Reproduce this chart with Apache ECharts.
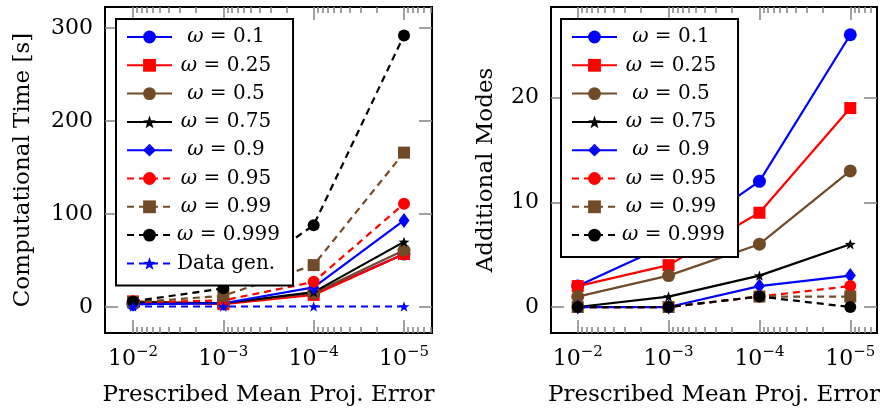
<!DOCTYPE html>
<html><head><meta charset="utf-8">
<script src="https://cdn.jsdelivr.net/npm/echarts@6/dist/echarts.min.js"></script>
<style>html,body{margin:0;padding:0;background:#fff}#c{width:882px;height:409px}</style>
</head><body><div id="c"></div>
<script>
// ---- data ----
const errorExponents = [2, 3, 4, 5]; // prescribed error = 10^-n
const seriesNames = ['ω = 0.1', 'ω = 0.25', 'ω = 0.5', 'ω = 0.75', 'ω = 0.9', 'ω = 0.95', 'ω = 0.99', 'ω = 0.999', 'Data gen.'];
// computational time [s]
const timeW01   = [3, 4, 14, 57];
const timeW025  = [6, 3, 13, 57];
const timeW05   = [5, 4, 15, 61];
const timeW075  = [5, 4, 16, 70];
const timeW09   = [3, 4, 21, 93];
const timeW095  = [5, 7, 27, 111];
const timeW099  = [5, 12, 45, 166];
const timeW0999 = [6, 20, 88, 292];
const timeDataGen = [0.5, 0.5, 0.5, 0.5];
// additional modes
const modesW01   = [2, 6, 12, 26];
const modesW025  = [2, 4, 9, 19];
const modesW05   = [1, 3, 6, 13];
const modesW075  = [0, 1, 3, 6];
const modesW09   = [0, 0, 2, 3];
const modesW095  = [0, 0, 1, 2];
const modesW099  = [0, 0, 1, 1];
const modesW0999 = [0, 0, 1, 0];
const timeTicks = [0, 100, 200, 300];
const modeTicks = [0, 10, 20];
const xTickExponents = [2, 3, 4, 5];

// ---- styles ----
const FONT = '"DejaVu Serif"';
const BLUE = '#0000ff', RED = '#ff0000', BROWN = '#714b27', BLACK = '#000000';
const STAR = 'path://M0,-10 L2.35,-3.24 L9.51,-3.09 L3.8,1.24 L5.88,8.09 L0,4 L-5.88,8.09 L-3.8,1.24 L-9.51,-3.09 L-2.35,-3.24 Z';
const styles = [
  {color: BLUE,  dash: false, symbol: 'circle',  size: 13},
  {color: RED,   dash: false, symbol: 'rect',    size: 12},
  {color: BROWN, dash: false, symbol: 'circle',  size: 13},
  {color: BLACK, dash: false, symbol: STAR,      size: 11},
  {color: BLUE,  dash: false, symbol: 'diamond', size: [11, 15]},
  {color: RED,   dash: true,  symbol: 'circle',  size: 12},
  {color: BROWN, dash: true,  symbol: 'rect',    size: 12},
  {color: BLACK, dash: true,  symbol: 'circle',  size: 12},
  {color: BLUE,  dash: true,  symbol: STAR,      size: 11}
];
const timeData = [timeW01, timeW025, timeW05, timeW075, timeW09, timeW095, timeW099, timeW0999, timeDataGen];
const modeData = [modesW01, modesW025, modesW05, modesW075, modesW09, modesW095, modesW099, modesW0999];

// minor log tick positions (in -log10 units)
function minorTicks(min, max) {
  const out = [];
  for (let n = 1; n <= 6; n++) for (let k = 2; k <= 9; k++) {
    const v = n - Math.log10(k);
    if (v > min + 0.01 && v < max - 0.005) out.push(v);
  }
  return out;
}

const GREY = '#8a8a8a';
const TICKW = 1.6;
const LINE = {show: false, onZero: false};
function xAxes(grid, min, max, title) {
  const minors = minorTicks(min, max);
  const base = {type: 'value', gridIndex: grid, min, max, axisLine: LINE, splitLine: {show: false}};
  return [
    Object.assign({}, base, {
      position: 'bottom',
      name: title, nameLocation: 'middle', nameGap: 51,
      nameTextStyle: {fontFamily: FONT, fontSize: 23, color: '#000'},
      axisTick: {show: true, inside: true, length: 13, customValues: xTickExponents, lineStyle: {color: GREY, width: TICKW}},
      axisLabel: {show: true, customValues: xTickExponents, margin: 12,
        formatter: v => '{b|10}{s|−' + Math.round(v) + '}',
        rich: {b: {fontFamily: FONT, fontSize: 22, color: '#000', lineHeight: 28},
               s: {fontFamily: FONT, fontSize: 15, color: '#000', lineHeight: 15, verticalAlign: 'top'}}}
    }),
    Object.assign({}, base, {position: 'bottom', axisLabel: {show: false},
      axisTick: {show: true, inside: true, length: 6, customValues: minors, lineStyle: {color: GREY, width: TICKW}}}),
    Object.assign({}, base, {position: 'top', axisLabel: {show: false},
      axisTick: {show: true, inside: true, length: 13, customValues: xTickExponents, lineStyle: {color: GREY, width: TICKW}}}),
    Object.assign({}, base, {position: 'top', axisLabel: {show: false},
      axisTick: {show: true, inside: true, length: 6, customValues: minors, lineStyle: {color: GREY, width: TICKW}}})
  ];
}
function yAxes(grid, min, max, ticks, title, gap) {
  const base = {type: 'value', gridIndex: grid, min, max, axisLine: LINE, splitLine: {show: false}};
  return [
    Object.assign({}, base, {position: 'left', name: title, nameLocation: 'middle', nameGap: gap, nameRotate: 90,
      nameTextStyle: {fontFamily: FONT, fontSize: 23, color: '#000'},
      axisTick: {show: true, inside: true, length: 13, customValues: ticks, lineStyle: {color: GREY, width: TICKW}},
      axisLabel: {show: true, customValues: ticks, margin: 12, fontFamily: FONT, fontSize: 22, color: '#000'}}),
    Object.assign({}, base, {position: 'right', axisLabel: {show: false},
      axisTick: {show: true, inside: true, length: 13, customValues: ticks, lineStyle: {color: GREY, width: TICKW}}})
  ];
}
function makeSeries(i, data, xi, yi) {
  const st = styles[i];
  return {
    type: 'line', name: seriesNames[i], xAxisIndex: xi, yAxisIndex: yi,
    data: errorExponents.map((e, j) => [e, data[j]]),
    symbol: st.symbol, symbolSize: st.size, symbolKeepAspect: true, showSymbol: true,
    lineStyle: {color: st.color, width: 2.2, type: st.dash ? [7, 5] : 'solid'},
    itemStyle: {color: st.color, borderWidth: 0},
    emphasis: {disabled: true}, clip: false, animation: false
  };
}

// legend text centring
const LFS = 20, TEXTW = 98;
const ctx = document.createElement('canvas').getContext('2d');
function measure(txt, italic) { ctx.font = (italic ? 'italic ' : '') + LFS + 'px ' + FONT; return ctx.measureText(txt).width; }
const legendRich = {
  w: {fontFamily: FONT, fontStyle: 'italic', fontSize: LFS, color: '#000', lineHeight: 20},
  t: {fontFamily: FONT, fontSize: LFS, color: '#000', lineHeight: 20}
};
seriesNames.forEach((n, i) => {
  let w;
  if (n.startsWith('ω')) w = measure('ω', true) + measure(n.slice(1), false);
  else w = measure(n, false);
  const l = Math.max(0, (TEXTW - w) / 2);
  legendRich['p' + i] = {width: l, lineHeight: 20};
  legendRich['q' + i] = {width: Math.max(0, TEXTW - w - l), lineHeight: 20};
});
function legendFmt(name) {
  const i = seriesNames.indexOf(name);
  const body = name.startsWith('ω') ? '{w|ω}{t|' + name.slice(1) + '}' : '{t|' + name + '}';
  return '{p' + i + '|}' + body + '{q' + i + '|}';
}
function legend(left, names) {
  return {
    left, top: 19, orient: 'vertical', data: names, selectedMode: false,
    itemWidth: 45, itemHeight: 16, itemGap: 8.3, padding: [8, 13, 12, 10],
    borderColor: '#000', borderWidth: 2, backgroundColor: '#fff',
    formatter: legendFmt, textStyle: {rich: legendRich}
  };
}

const series = [];
timeData.forEach((d, i) => series.push(makeSeries(i, d, 0, 0)));
modeData.forEach((d, i) => series.push(makeSeries(i, d, 4, 2)));

const chart = echarts.init(document.getElementById('c'), null, {renderer: 'canvas'});
chart.setOption({
  animation: false,
  backgroundColor: '#fff',
  grid: [
    {left: 105, top: 7, width: 327, height: 326, show: true, borderColor: '#000', borderWidth: 2, containLabel: false, outerBoundsMode: 'none'},
    {left: 551, top: 7, width: 326, height: 326, show: true, borderColor: '#000', borderWidth: 2, containLabel: false, outerBoundsMode: 'none'}
  ],
  xAxis: [].concat(xAxes(0, 1.69, 5.31, 'Prescribed Mean Proj. Error'), xAxes(1, 1.706, 5.294, 'Prescribed Mean Proj. Error')),
  yAxis: [].concat(yAxes(0, -28, 322.6, timeTicks, 'Computational Time [s]', 70), yAxes(1, -2.48, 28.65, modeTicks, 'Additional Modes', 53)),
  legend: [legend(116, seriesNames), legend(561, seriesNames.slice(0, 8))],
  series
});
</script></body></html>
